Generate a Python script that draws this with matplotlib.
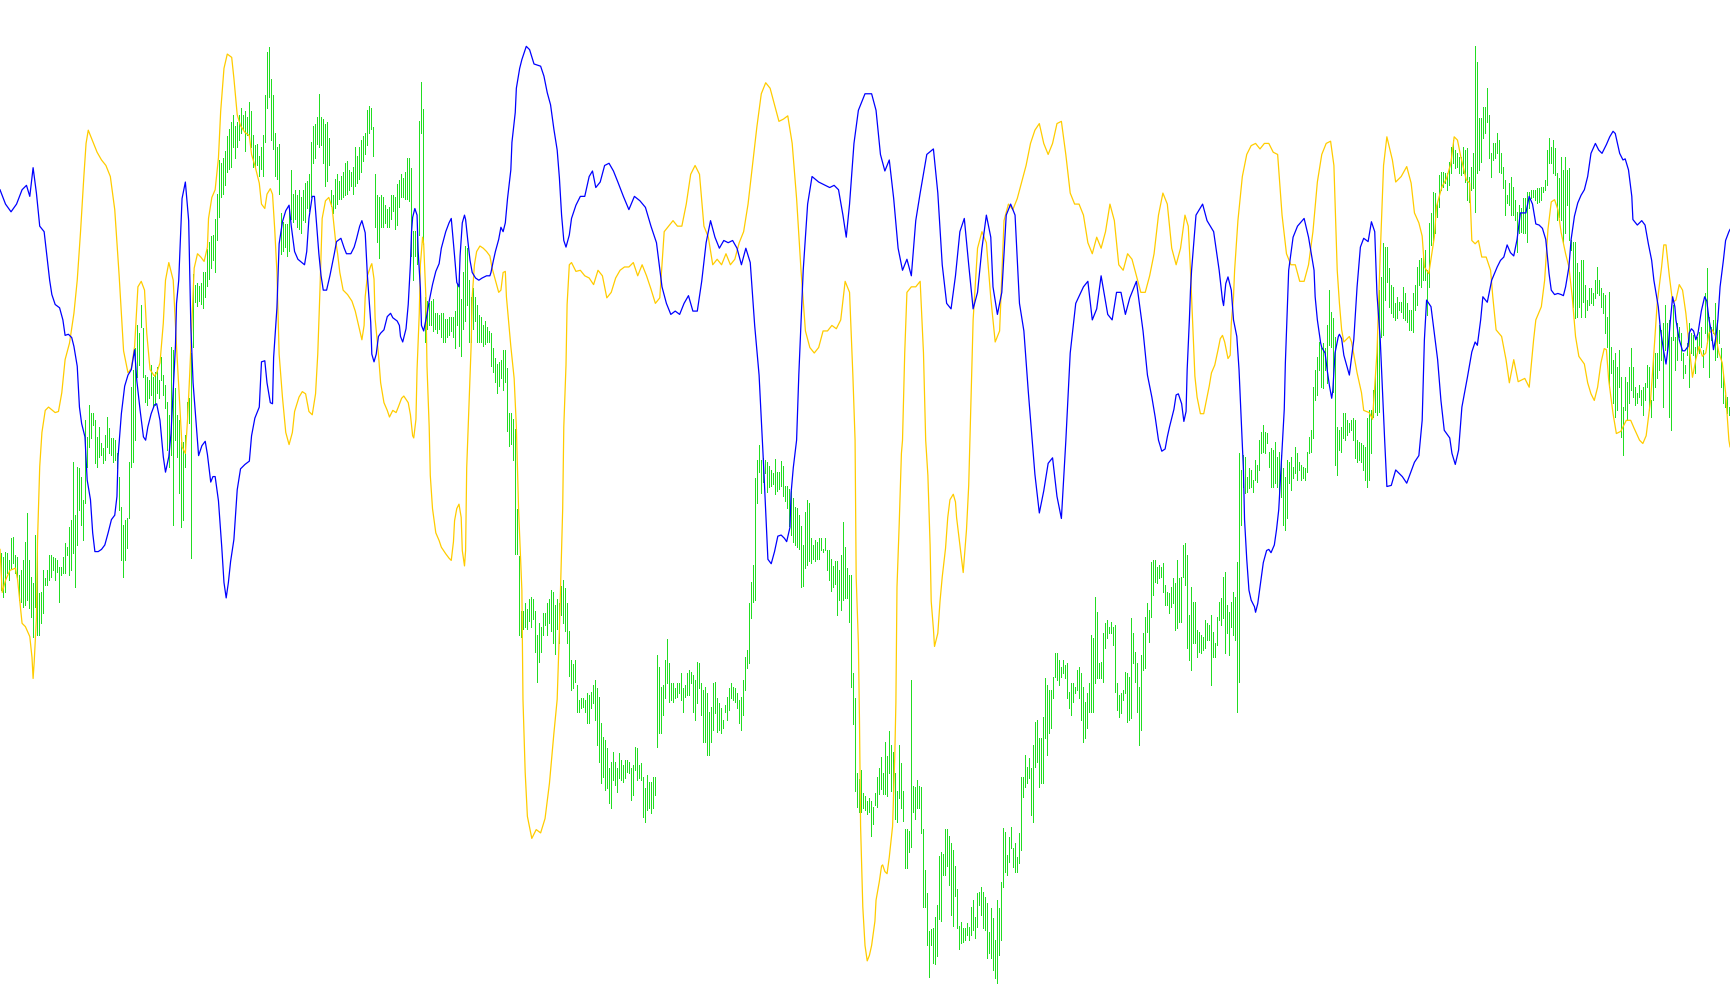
import numpy as np
import matplotlib
matplotlib.use("Agg")
import matplotlib.pyplot as plt

# ---------------- data (values measured downward from the top of the chart) ----------------
# green bars: one bar per period, upper and lower end
green_upper = [
553,557,552,553,560,538,537,555,557,575, 570,560,542,513,560,577,583,535,538,593,
592,570,578,570,555,555,557,558,560,567, 567,557,543,547,527,520,462,515,467,468,
477,500,420,437,405,413,413,420,437,427, 443,448,435,417,428,438,438,440,453,477,
507,525,520,518,462,387,370,348,325,333, 305,328,375,377,380,365,377,372,367,380,
357,375,385,402,415,347,350,388,415,420, 442,442,435,402,398,353,
274,285,283,286,283,272,272,249,242,236, 235,219,194,160,163,158,151,136,129,122,
115,126,122,115,108,115,111,117,102,111, 135,145,144,156,147,135,95,52,47,79,
95,133,147,144,213,222,224,224,211,170, 194,190,195,190,197,190,183,181,174,142,
126,124,117,94,117,119,124,122,138,190, 195,179,174,181,176,172,163,161,170,172,
167,147,156,147,140,136,133,110,106,108, 127,174,195,197,195,197,
205,209,207,195,195,197,184,180,174,178, 172,158,158,168,231,231,231,121,82,109,
297,301,303,301,299,313,313,315,313,313, 319,319,317,317,317,311,284,272,299,272,
246,248,280,297,288,297,305,315,317,325, 321,327,331,333,348,358,364,362,360,350,
350,368,413,413,419,429,509,556,611,611, 603,609,599,597,599,611,635,623,627,613,
613,603,599,590,592,605,599,603,586,580, 588,603,631,660,664,660,
685,700,698,698,700,693,695,692,685,680, 688,697,723,737,740,748,768,762,752,762,
768,753,760,765,760,760,762,768,765,747, 748,765,763,777,788,775,782,782,777,777,
655,667,687,685,660,639,663,683,683,688, 683,683,673,688,685,673,670,672,675,680,
662,663,683,690,687,693,712,707,683,682, 698,703,708,720,705,697,688,683,687,688,
693,700,697,680,657,650,603,582,565,478, 460,445,460,458,460,462,
466,470,473,459,472,472,461,466,486,486, 489,491,498,507,508,515,526,545,512,500,
503,538,545,540,542,538,538,549,538,550, 550,559,566,561,561,570,555,522,547,568,
575,575,673,698,773,779,770,793,796,801, 798,801,807,793,777,768,757,773,742,756,
731,745,752,773,791,745,763,791,829,829, 831,680,786,787,780,786,787,829,870,893,
931,929,928,917,905,856,852,854,829,829, 836,843,850,866,889,926,
922,928,928,923,927,907,900,917,893,892, 887,892,897,903,932,908,918,940,900,908,
882,828,832,855,837,827,848,843,857,833, 777,777,755,767,758,768,745,722,720,738,
738,717,678,685,690,690,677,653,653,660, 667,660,665,663,692,683,683,687,670,667,
673,687,702,693,683,635,638,597,612,663, 662,633,623,620,627,622,627,625,683,695,
693,690,672,673,677,618,633,652,663,687, 655,633,617,603,610,562,
560,560,567,565,567,563,585,592,593,587, 578,583,560,578,577,545,543,555,615,587,
602,602,630,632,635,637,620,623,625,615, 632,643,617,602,598,577,572,605,612,602,
592,597,562,453,470,455,457,477,468,470, 480,460,465,440,432,425,432,433,452,448,
450,442,457,452,455,468,477,460,462,457, 467,447,453,462,465,467,468,452,437,430,
387,370,357,342,348,343,348,325,290,312, 318,337,427,430,427,413,
413,420,423,420,418,420,440,442,443,445, 447,418,410,410,390,373,333,290,277,243,
247,247,268,285,287,303,297,302,302,287, 293,303,310,310,293,285,267,260,258,253,
250,270,223,213,192,193,202,175,172,172, 173,173,162,147,140,150,153,157,157,147,
150,148,177,167,153,46,62,118,118,107, 107,88,115,153,143,143,133,140,153,167,
180,195,183,177,187,200,212,205,208,198, 198,192,192,190,190,190,
188,188,187,187,180,150,138,147,140,148, 173,178,157,170,157,170,168,240,242,242,
263,272,260,260,285,300,288,288,293,280, 267,280,288,293,295,317,292,347,360,353,
367,350,377,407,377,382,367,348,367,387, 393,385,390,387,383,365,367,400,357,353,
353,325,330,323,305,323,320,337,305,337, 323,327,333,353,365,343,323,333,335,347,
337,332,327,350,293,268,317,327,320,303, 320,330,348,375,395,397,407,
]
green_lower = [
590,597,592,573,580,568,563,573,577,600, 602,607,605,600,608,617,637,607,635,635,
623,613,585,585,580,577,570,580,572,602, 575,573,573,555,575,570,553,587,545,510,
525,540,503,467,447,438,425,463,467,457, 455,463,460,447,453,455,462,460,468,510,
560,577,560,548,518,467,462,440,377,365, 327,377,402,405,398,395,407,405,393,398,
380,395,408,450,467,455,525,440,457,493, 527,520,467,417,423,558,
347,302,306,301,304,308,297,286,279,268, 260,272,240,217,197,194,185,172,169,167,
147,158,147,140,133,129,151,135,135,147, 167,167,165,176,169,176,142,108,97,140,
149,176,179,194,254,251,247,256,251,219, 222,219,227,229,233,220,222,208,211,197,
163,158,144,147,145,163,186,181,165,206, 213,208,204,199,199,197,195,194,190,186,
194,186,183,179,172,161,154,145,133,129, 156,227,242,258,227,227,
223,227,227,219,211,229,225,207,197,197, 199,199,201,256,280,256,264,235,133,244,
342,329,325,325,331,329,333,329,337,342, 342,337,335,331,337,348,325,346,356,329,
321,305,342,342,329,321,342,342,342,346, 344,342,342,366,372,382,393,386,378,390,
382,431,446,444,460,554,554,635,637,629, 627,629,621,627,619,652,682,662,652,635,
625,635,623,631,643,654,629,643,615,623, 631,643,676,690,688,682,
712,712,708,707,712,723,723,708,703,720, 745,762,783,777,790,788,803,808,780,785,
792,778,780,782,778,772,773,800,795,770, 780,778,780,817,822,810,808,813,808,795,
747,733,733,715,698,683,702,700,702,698, 697,693,700,712,697,695,695,683,712,720,
703,688,715,742,742,755,755,742,730,713, 732,730,733,728,712,720,710,698,700,702,
708,723,730,715,690,668,663,618,602,600, 503,472,493,482,473,492,
487,486,484,494,491,489,486,496,501,508, 526,535,542,545,547,549,587,586,568,565,
561,563,559,561,559,559,550,552,550,570, 580,591,587,584,615,600,610,600,598,598,
622,687,724,791,807,812,812,808,810,814, 812,836,824,805,807,794,789,794,794,796,
773,791,798,819,822,798,808,821,868,868, 852,847,812,819,808,808,833,907,907,945,
977,945,963,964,956,919,921,875,875,866, 885,915,926,896,928,949,
943,942,940,935,940,935,930,938,927,905, 915,928,930,958,953,958,970,978,983,955,
940,887,872,875,862,848,867,872,872,863, 850,797,787,783,778,815,822,767,762,787,
783,783,738,755,733,728,698,677,680,685, 677,673,678,698,708,715,702,693,690,698,
720,742,738,728,712,712,712,683,678,678, 678,682,648,638,633,633,645,692,710,717,
713,700,693,722,720,718,663,682,712,745, 730,670,668,632,642,617,
595,582,583,578,577,592,605,605,613,607, 603,630,628,622,622,577,585,648,660,670,
643,643,657,652,653,650,648,640,640,685, 657,657,645,620,625,618,653,633,655,627,
635,640,712,682,525,487,493,492,488,487, 492,480,482,470,453,452,453,443,467,487,
487,483,487,497,497,525,530,518,483,490, 478,473,480,470,480,478,480,472,453,452,
438,400,395,370,387,388,370,383,345,347, 392,465,475,450,452,438,
440,435,432,430,440,458,462,460,462,470, 480,487,480,453,417,412,415,412,337,335,
300,282,307,313,317,320,318,310,312,318, 320,322,330,330,332,310,305,285,287,280,
280,315,287,245,240,233,217,207,190,187, 183,190,185,173,163,168,167,173,175,173,
182,200,202,190,188,212,173,170,162,138, 133,122,158,177,160,158,153,172,173,188,
215,203,205,215,215,220,252,233,232,233, 233,242,208,198,197,200,
203,202,200,192,190,185,163,163,173,175, 220,217,220,243,233,205,240,250,307,318,
317,307,317,302,317,310,305,303,305,298, 293,295,307,313,333,347,387,373,403,417,
410,387,437,455,410,420,403,390,397,405, 403,397,405,415,400,387,410,417,400,387,
378,370,360,407,350,352,417,430,340,370, 360,337,360,378,373,355,387,353,355,373,
353,353,347,367,333,343,377,340,333,360, 357,343,387,403,407,413,415,
]

# blue indicator line: (time, value)
blue_points = [
(0,172),(5,185),(10,192),(15,185),(20,172),(24,168),(27,178),(30,152),(33,175),(36,205),(40,210),(45,254),(47,267),(50,276),(54,279),(57,290),(59,304),(62,303),(65,306),(67,314),(70,332),(72,369),(74,384),(77,396),(79,435),(82,453),(84,483),(86,500),(89,500),(92,498),(95,494),(98,483),(101,471),(104,467),(106,450),(107,414),(110,375),(113,350),(116,340),(119,335),(122,317),(124,345),(127,372),(130,396),(132,399),(134,387),(137,375),(140,367),(142,366),(145,381),(148,414),(150,428),(153,414),(155,393),(157,353),(159,314),(160,275),(162,254),(165,180),(168,165),(171,200),(173,297),(175,347),(178,386),(180,413),(183,404),(186,400),(188,412),(191,437),(193,432),(195,432),(198,454),(201,496),(203,528),(205,542),(207,528),(209,509),(212,489),(215,444),(218,425),(222,421),(226,418),(228,395),(231,379),(235,369),(237,328),(240,327),(242,347),(245,365),(247,366),(248,324),(251,279),(253,221),(256,201),(259,191),(262,186),(264,205),(267,228),(270,235),(276,240),(278,228),(280,198),(283,178),(285,178),(286,191),(289,230),(291,250),(293,263),(296,263),(299,250),(303,230),(305,219),(309,216),(312,225),(314,230),(318,230),(321,224),(323,217),(326,205),(328,200),(331,211),(333,250),(336,292),(337,321),(339,328),(341,321),(343,305),(345,302),(348,299),(351,287),(354,284),(356,288),(360,291),(362,295),(363,305),(365,310),(368,298),(370,276),(372,239),(373,210),(374,197),(376,189),(378,195),(379,228),(381,261),(382,295),(384,300),(387,285),(389,273),(392,258),(395,246),(398,239),(400,225),(404,210),(407,202),(409,198),(410,209),(412,232),(414,256),(416,260),(417,232),(419,202),(421,195),(422,199),(424,218),(426,236),(428,247),(431,252),(434,254),(437,252),(441,250),(444,250),(445,247),(447,237),(449,228),(452,217),(454,206),(456,210),(458,202),(460,180),(463,154),(464,129),(467,102),(468,80),(471,62),(473,54),(477,42),(480,45),(484,58),(490,60),(493,69),(496,84),(499,95),(502,117),(505,136),(507,161),(509,195),(511,218),(513,224),(516,213),(518,198),(522,186),(526,178),(530,178),(534,160),(537,155),(540,170),(544,165),(548,150),(552,148),(556,155),(560,165),(565,178),(570,190),(575,178),(580,182),(585,188),(590,205),(595,220),(600,260),(604,275),(608,285),(612,282),(616,285),(620,275),(624,268),(628,282),(632,282),(636,255),(640,220),(644,200),(648,215),(652,225),(656,218),(660,220),(664,218),(668,225),(672,240),(676,225),(680,238),(684,295),(688,340),(692,420),(696,507),(699,511),(702,500),(705,486),(708,485),(711,488),(713,491),(716,478),(717,447),(719,424),(722,399),(724,340),(728,245),(732,185),(736,160),(742,165),(748,168),(752,170),(756,168),(760,172),(764,195),(767,215),(770,185),(774,130),(778,100),(784,85),(790,85),(794,100),(798,140),(802,155),(806,145),(810,180),(814,225),(818,245),(822,235),(826,250),(830,200),(834,175),(840,140),(846,135),(850,175),(854,240),(858,275),(862,280),(866,250),(870,210),(874,198),(878,240),(882,280),(886,265),(890,225),(894,195),(898,215),(900,260),(904,285),(908,265),(912,195),(916,185),(920,195),(924,275),(928,300),(932,355),(938,430),(942,465),(946,445),(950,420),(954,415),(958,450),(962,470),(966,400),(970,320),(975,275),(982,260),(986,255),(990,290),(994,280),(998,250),(1004,285),(1008,290),(1012,265),(1016,265),(1020,285),(1024,270),(1030,255),(1036,300),(1040,340),(1044,360),(1047,378),(1050,399),(1053,409),(1056,407),(1058,396),(1060,387),(1064,371),(1066,358),(1068,357),(1071,366),(1073,382),(1075,373),(1076,335),(1078,290),(1079,263),(1080,245),(1084,195),(1090,185),(1094,200),(1100,210),(1105,245),(1108,272),(1109,277),(1111,257),(1113,251),(1116,263),(1118,290),(1121,305),(1123,335),(1125,381),(1127,426),(1128,471),(1130,507),(1132,535),(1134,544),(1137,550),(1138,555),(1140,547),(1142,532),(1145,510),(1148,499),(1150,498),(1152,501),(1155,494),(1157,480),(1159,462),(1161,426),(1164,371),(1165,329),(1167,272),(1168,245),(1172,215),(1176,205),(1182,198),(1186,215),(1191,245),(1192,269),(1194,290),(1197,311),(1198,315),(1201,320),(1203,336),(1205,350),(1207,361),(1208,354),(1210,320),(1213,305),(1214,303),(1216,307),(1218,322),(1223,340),(1227,308),(1230,260),(1233,224),(1236,216),(1240,219),(1243,201),(1246,210),(1248,266),(1251,308),(1255,399),(1257,441),(1261,440),(1265,426),(1271,432),(1275,438),(1282,419),(1286,413),(1289,381),(1291,308),(1293,272),(1297,278),(1300,302),(1303,326),(1306,363),(1309,390),(1314,397),(1316,411),(1319,421),(1322,408),(1325,369),(1330,342),(1334,319),(1337,310),(1339,313),(1342,290),(1344,269),(1348,274),(1352,254),(1357,242),(1360,236),(1363,233),(1366,222),(1369,229),(1372,232),(1375,217),(1378,193),(1383,193),(1386,178),(1389,185),(1392,203),(1395,204),(1398,207),(1401,217),(1404,248),(1406,263),(1409,267),(1412,266),(1415,267),(1417,268),(1419,260),(1422,242),(1424,217),(1427,196),(1430,184),(1433,177),(1436,172),(1439,160),(1442,139),(1446,130),(1449,136),(1452,139),(1456,131),(1459,124),(1462,119),(1464,121),(1468,139),(1471,145),(1473,144),(1476,154),(1479,178),(1480,199),(1484,204),(1488,200),(1491,204),(1494,221),(1497,236),(1499,254),(1503,278),(1505,299),(1508,319),(1510,330),(1512,314),(1514,290),(1516,269),(1518,278),(1519,290),(1522,308),(1525,318),(1527,318),(1530,314),(1531,302),(1533,298),(1535,300),(1537,308),(1539,302),(1542,282),(1545,269),(1547,273),(1549,290),(1551,300),(1553,317),(1555,307),(1557,290),(1559,260),(1562,236),(1564,218),(1567,210),(1568,208),
]

# yellow indicator line: (time, value)
yellow_points = [
(0,498),(2,537),(5,526),(9,517),(14,515),(16,526),(20,565),(23,568),(27,577),(29,596),(30,615),(31,600),(33,560),(34,490),(36,423),(38,392),(41,372),(44,369),(50,374),(53,373),(56,356),(59,326),(63,311),(67,284),(70,254),(73,210),(76,160),(78,130),(80,118),(84,128),(88,138),(92,145),(96,150),(100,160),(104,190),(108,250),(112,318),(116,338),(119,334),(122,314),(125,260),(128,255),(131,263),(133,302),(136,335),(140,341),(142,338),(145,329),(148,293),(150,254),(153,238),(157,254),(160,314),(165,405),(168,411),(170,380),(172,338),(174,290),(176,243),(179,230),(182,233),(185,237),(188,224),(189,198),(192,179),(195,172),(198,143),(200,101),(203,62),(206,49),(210,52),(212,71),(215,104),(218,114),(222,120),(226,123),(228,140),(231,150),(235,166),(237,185),(240,189),(242,176),(245,171),(247,176),(249,208),(251,247),(253,321),(256,360),(259,392),(262,403),(265,392),(267,373),(271,360),(274,355),(277,357),(280,373),(283,376),(286,357),(288,321),(290,263),(292,198),(295,182),(298,179),(301,188),(304,217),(306,230),(308,247),(311,263),(315,267),(319,273),(322,282),(325,295),(328,308),(330,295),(331,269),(333,250),(336,241),(337,239),(339,253),(340,289),(343,321),(345,347),(348,365),(351,372),(353,378),(356,372),(359,374),(361,369),(364,361),(366,359),(370,365),(372,376),(374,395),(375,397),(377,380),(378,335),(380,284),(381,240),(383,215),(384,221),(386,269),(387,332),(389,387),(390,431),(392,461),(395,483),(398,490),(400,496),(404,502),(407,506),(409,508),(411,491),(412,472),(414,461),(416,457),(418,469),(419,499),(421,513),(422,499),(423,424),(425,369),(427,314),(428,269),(430,240),(432,228),(435,223),(438,225),(441,228),(444,232),(446,243),(449,254),(452,265),(454,263),(456,247),(458,246),(459,269),(463,314),(466,343),(468,387),(470,461),(473,535),(474,634),(476,700),(478,740),(482,760),(486,752),(490,755),(494,742),(498,710),(502,665),(505,634),(507,572),(510,461),(511,387),(513,331),(514,276),(516,240),(518,238),(522,246),(526,245),(530,250),(534,252),(538,258),(542,245),(546,250),(550,270),(554,265),(558,252),(562,245),(566,242),(570,242),(574,238),(578,250),(582,240),(586,250),(590,262),(594,275),(598,270),(602,210),(606,205),(610,200),(614,205),(618,205),(622,185),(626,158),(630,150),(634,158),(638,205),(642,215),(646,240),(650,235),(654,240),(658,230),(662,240),(666,235),(670,220),(674,210),(678,185),(682,150),(686,115),(690,85),(694,75),(698,80),(702,95),(706,110),(710,108),(714,105),(718,130),(722,180),(726,245),(730,300),(734,315),(738,320),(742,315),(746,300),(750,300),(754,295),(758,298),(762,290),(766,255),(770,265),(773,340),(775,399),(776,523),(778,583),(779,653),(780,749),(782,822),(784,857),(786,871),(788,866),(790,857),(793,835),(794,816),(797,799),(799,785),(800,784),(802,790),(804,792),(806,777),(809,749),(811,685),(812,637),(813,532),(815,475),(817,411),(818,399),(820,320),(822,265),(826,260),(830,260),(834,255),(837,320),(839,399),(841,431),(843,494),(844,545),(846,570),(847,586),(850,574),(852,545),(854,523),(857,497),(859,469),(861,453),(864,448),(866,455),(867,469),(870,494),(873,519),(876,480),(878,440),(882,290),(886,225),(890,210),(894,220),(898,270),(902,310),(906,300),(910,200),(914,185),(918,190),(922,180),(926,165),(930,150),(934,130),(938,118),(942,112),(946,130),(950,140),(954,130),(958,112),(962,110),(966,140),(970,175),(974,185),(978,185),(982,195),(986,220),(990,230),(994,215),(998,225),(1002,210),(1006,185),(1010,200),(1014,240),(1018,245),(1022,230),(1026,235),(1030,250),(1034,265),(1038,265),(1042,250),(1046,230),(1050,195),(1054,175),(1058,185),(1062,225),(1066,240),(1070,225),(1074,195),(1077,205),(1079,245),(1080,269),(1083,341),(1085,360),(1088,375),(1091,375),(1093,365),(1096,350),(1098,338),(1101,331),(1104,317),(1106,307),(1108,304),(1110,310),(1113,325),(1115,322),(1116,293),(1118,269),(1119,245),(1122,200),(1126,160),(1130,140),(1134,132),(1138,130),(1142,135),(1146,130),(1150,130),(1154,138),(1158,140),(1162,195),(1166,230),(1170,240),(1174,240),(1178,255),(1182,255),(1186,240),(1190,210),(1194,165),(1198,140),(1202,130),(1206,128),(1209,150),(1212,245),(1214,275),(1216,299),(1218,310),(1223,305),(1225,310),(1230,338),(1234,356),(1236,372),(1241,374),(1244,380),(1248,320),(1251,230),(1254,150),(1257,124),(1262,145),(1265,165),(1270,160),(1275,151),(1279,166),(1282,193),(1286,202),(1289,214),(1291,242),(1295,248),(1300,215),(1302,187),(1307,169),(1311,162),(1315,148),(1318,124),(1321,127),(1324,142),(1329,163),(1332,166),(1334,218),(1337,221),(1340,218),(1343,233),(1347,233),(1351,245),(1353,269),(1356,299),(1361,305),(1365,326),(1368,347),(1372,326),(1376,346),(1382,343),(1386,351),(1390,308),(1392,290),(1397,278),(1400,254),(1403,208),(1406,183),(1409,181),(1412,190),(1415,211),(1419,230),(1422,242),(1425,269),(1428,305),(1431,323),(1436,330),(1439,347),(1442,357),(1445,363),(1448,351),(1451,329),(1454,316),(1456,317),(1458,344),(1462,375),(1465,393),(1469,391),(1474,381),(1478,381),(1481,388),(1486,399),(1489,402),(1492,395),(1496,363),(1499,320),(1502,275),(1506,242),(1508,222),(1510,222),(1513,250),(1516,274),(1519,272),(1522,258),(1525,263),(1528,284),(1531,314),(1534,342),(1537,326),(1540,314),(1543,323),(1546,320),(1549,302),(1552,299),(1555,305),(1558,320),(1561,329),(1564,356),(1567,399),(1568,405),
]

GREEN = "#22dd22"
BLUE = "#0000ff"
YELLOW = "#ffcc00"

# ---------------- drawing ----------------
fig = plt.figure(figsize=(17.30, 10.05), dpi=100)
fig.patch.set_facecolor("white")

ax_bars = fig.add_axes([0, 0, 1, 1])
n = len(green_upper)
ax_bars.set_xlim(0, n)
ax_bars.set_ylim(1005, 0)
ax_bars.vlines(np.arange(n) + 0.5, green_upper, green_lower, colors=GREEN,
               linewidth=0.5, antialiased=False)
ax_bars.axis("off")

ax_lines = fig.add_axes([0, 0, 1, 1])
ax_lines.patch.set_alpha(0)
ax_lines.set_xlim(0, 1568)
ax_lines.set_ylim(911, 0)
yt, yv = zip(*yellow_points)
bt, bv = zip(*blue_points)
ax_lines.plot(yt, yv, color=YELLOW, linewidth=0.9)
ax_lines.plot(bt, bv, color=BLUE, linewidth=0.9)
ax_lines.axis("off")

fig.savefig("out.png", dpi=100, facecolor="white")
